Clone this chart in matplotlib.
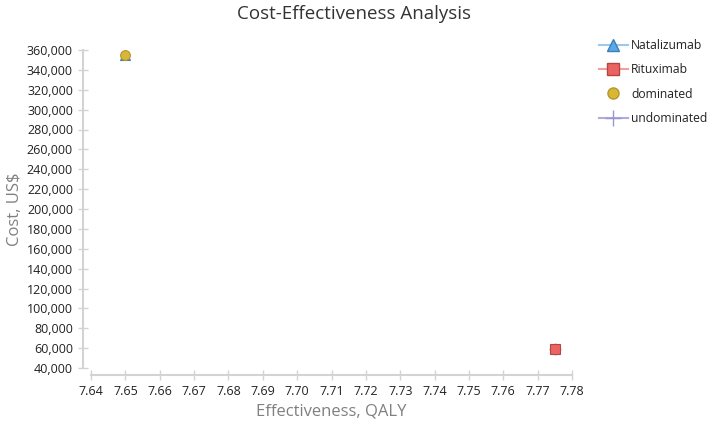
import numpy as np
import matplotlib.pyplot as plt
from matplotlib.lines import Line2D
from matplotlib.ticker import FuncFormatter

plt.rcParams['font.family'] = ['Open Sans', 'DejaVu Sans']

# Данные
strategies = ["Natalizumab", "Rituximab"]
effectiveness = [7.65, 7.775]
cost = [355000, 59000]
dominated = ["Natalizumab"]
undominated = ["Rituximab"]

x_ticks = np.round(np.arange(7.64, 7.781, 0.01), 2)
y_ticks = np.arange(40000, 360001, 20000)

colors = {"Natalizumab": "#5aa9e6", "Rituximab": "#ec6461"}
edges = {"Natalizumab": "#3b7fb8", "Rituximab": "#b04646"}
markers = {"Natalizumab": "^", "Rituximab": "s"}

fig = plt.figure(figsize=(7.08, 4.22), dpi=100)
ax = fig.add_axes([91 / 708, 1 - 368 / 422, 481 / 708, 318 / 422])

for s, x, y in zip(strategies, effectiveness, cost):
    if s in undominated:
        ax.plot(x, y, marker="+", color="#9a95cf", ms=9, mew=1, ls="none", clip_on=False, zorder=2)
    ax.plot(x, y, marker=markers[s], color=colors[s], mec=edges[s], mew=0.8, ms=7,
            ls="none", clip_on=False, zorder=3)
    if s in dominated:
        ax.plot(x, y, marker="o", color="#d8b636", mec="#b8962a", mew=0.8, ms=7,
                ls="none", clip_on=False, zorder=4)

ax.set_xlim(7.64, 7.78)
ax.set_ylim(40000, 360000)
ax.set_xticks(x_ticks)
ax.set_yticks(y_ticks)
ax.xaxis.set_major_formatter(FuncFormatter(lambda v, p: f"{v:.2f}"))
ax.yaxis.set_major_formatter(FuncFormatter(lambda v, p: f"{int(v):,}"))

for side in ["top", "right"]:
    ax.spines[side].set_visible(False)
for side in ["left", "bottom"]:
    ax.spines[side].set_color("#d3d3d3")
    ax.spines[side].set_linewidth(1.5)
ax.spines["left"].set_position(("outward", 6))
ax.spines["bottom"].set_position(("outward", 5))
ax.tick_params(axis="both", direction="inout", length=7, width=1, color="#d3d3d3",
               labelsize=9, labelcolor="#222222")
ax.tick_params(axis="x", pad=4)

ax.set_xlabel("Effectiveness, QALY", fontsize=12, color="#808080", labelpad=4)
ax.set_ylabel("Cost, US$", fontsize=12, color="#808080", labelpad=3)
fig.text(0.5, 0.968, "Cost-Effectiveness Analysis", ha="center", va="center",
         fontsize=13.5, color="#333333")

handles = [
    Line2D([], [], color="#9cc9ec", marker="^", mfc=colors["Natalizumab"], mec=edges["Natalizumab"], ms=8),
    Line2D([], [], color="#f0a09e", marker="s", mfc=colors["Rituximab"], mec=edges["Rituximab"], ms=8),
    Line2D([], [], ls="none", marker="o", mfc="#d8b636", mec="#b8962a", ms=8),
    Line2D([], [], color="#b0acdc", marker="+", mec="#9a95cf", ms=11),
]
labels = ["Natalizumab", "Rituximab", "dominated", "undominated"]
fig.legend(handles, labels, loc="upper left", bbox_to_anchor=(0.83, 0.933), frameon=False,
           fontsize=8.7, handlelength=2.4, handletextpad=0.3, labelspacing=0.93,
           labelcolor="#222222")

plt.savefig("out.png", dpi=100)
